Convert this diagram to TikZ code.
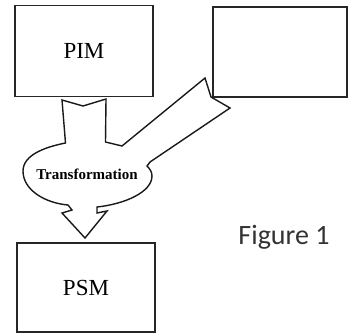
\documentclass[tikz,border=0pt]{standalone}
\usepackage{fontspec}
\setmainfont{Liberation Serif}
\newfontfamily\figfont{Carlito}
\usepackage{tikz}

\begin{document}
\begin{tikzpicture}%
	[x=1pt, y=-1pt,
	box/.style={draw=black!85, line width=1.3pt, minimum width=138pt, minimum height=91pt, inner sep=0pt, font=\fontsize{23}{26}\selectfont},
	outline/.style={draw=black!90, line width=1.4pt, line join=miter},
	label/.style={font=\bfseries\fontsize{15}{17}\selectfont, inner sep=1pt},
	caption/.style={font=\figfont\fontsize{28}{32}\selectfont, text=black!80}]
%%
\useasboundingbox (0,0) rectangle (352,333);
%%
%% The models
%%
\node[box] (pim) at (84,51) {PIM};
\node[box, minimum width=134pt, minimum height=90pt] (pdm) at (280,52) {};
\node[box, minimum height=89pt] (psm) at (86,287.5) {PSM};
%%
%% Corners of the merging arrow
%%
\coordinate (stem-tl) at (62,100);
\coordinate (stem-notch) at (83,106);
\coordinate (stem-tr) at (106,99);
\coordinate (stem-br) at (105.5,142);
\coordinate (arm-in) at (122,146);
\coordinate (tail-a) at (205,78);
\coordinate (tail-notch) at (211,97);
\coordinate (tail-b) at (230,108);
\coordinate (arm-out) at (150,162);
\coordinate (dent) at (147,166);
\coordinate (bulge-r) at (152,176);
\coordinate (head-sr) at (97,207);
\coordinate (head-nr) at (97,213);
\coordinate (head-wr) at (107,211);
\coordinate (head-tip) at (85,238);
\coordinate (head-wl) at (62,213);
\coordinate (head-nl) at (72,210);
\coordinate (head-sl) at (68,205);
\coordinate (bulge-l) at (23,171);
\coordinate (stem-bl) at (65.5,143);
%%
%% Drawing the arrow
%%
\draw[outline] (stem-tl) -- (stem-notch) -- (stem-tr) -- (stem-br) -- (arm-in)
	-- (tail-a) -- (tail-notch) -- (tail-b) -- (arm-out) -- (dent)
	.. controls (150,169) and (152,172) .. (bulge-r)
	.. controls (152,192) and (125,204) .. (head-sr)
	-- (head-nr) -- (head-wr) -- (head-tip) -- (head-wl) -- (head-nl) -- (head-sl)
	.. controls (45,203) and (23,190) .. (bulge-l)
	.. controls (23,155) and (45,147) .. (stem-bl) -- cycle;
%%
%% Labels
%%
\node[label] (trans) at (87,174) {Transformation};
\node[caption] (fig) at (284,237) {Figure 1};
%%
\end{tikzpicture}
\end{document}
